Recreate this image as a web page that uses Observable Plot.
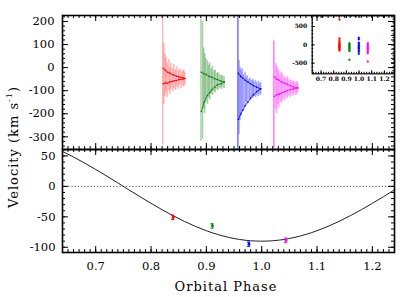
<!DOCTYPE html>
<html><head><meta charset="utf-8">
<script src="https://cdn.jsdelivr.net/npm/d3@7"></script>
<script src="https://cdn.jsdelivr.net/npm/@observablehq/plot@0.6"></script>
<style>
body{margin:0;background:#fff;}
#c{position:relative;width:415px;height:297px;font-family:"DejaVu Serif",serif;overflow:hidden;}
#c svg{position:absolute;}
.lab{position:absolute;font-family:"DejaVu Serif",serif;font-size:13px;letter-spacing:1px;white-space:nowrap;color:#000;}
</style></head><body><div id="c"></div><script>
// ---- top panel: individual velocity measurements [phase, low, high]
const redBars = [[0.821,-335,240],[0.823,-160,105],[0.825,-125,60],[0.827,-110,45],[0.829,-130,20],[0.832,-100,35],[0.834,-115,0],[0.836,-95,20],[0.839,-105,-5],[0.841,-90,15],[0.844,-100,-10],[0.846,-85,5],[0.849,-95,-15],[0.851,-80,-5],[0.854,-90,-10],[0.857,-80,-15],[0.859,-85,-10],[0.861,-75,-20]];
const greenBars = [[0.890,-320,212],[0.893,-310,200],[0.895,-180,85],[0.897,-200,60],[0.899,-150,40],[0.902,-160,30],[0.904,-130,10],[0.906,-140,20],[0.909,-115,-5],[0.911,-120,5],[0.914,-105,-15],[0.916,-110,-10],[0.919,-95,-25],[0.921,-100,-20],[0.924,-90,-30],[0.927,-95,-35],[0.929,-85,-35],[0.932,-90,-40]];
const blueBars = [[0.957,-365,240],[0.959,-290,30],[0.961,-230,0],[0.963,-210,-10],[0.965,-190,-5],[0.967,-175,-30],[0.970,-170,-20],[0.972,-150,-40],[0.974,-155,-35],[0.977,-140,-50],[0.979,-145,-45],[0.982,-130,-55],[0.984,-135,-50],[0.986,-125,-60],[0.989,-130,-55],[0.991,-120,-65],[0.994,-125,-60],[0.996,-115,-70],[0.998,-120,-65]];
const magentaBars = [[1.022,-350,115],[1.025,-180,20],[1.027,-200,10],[1.029,-160,-5],[1.031,-175,-15],[1.034,-150,-25],[1.036,-155,-20],[1.038,-140,-35],[1.041,-145,-40],[1.043,-130,-45],[1.046,-135,-40],[1.048,-125,-50],[1.051,-130,-55],[1.053,-120,-55],[1.056,-125,-60],[1.058,-115,-60],[1.061,-120,-65],[1.063,-115,-60],[1.065,-110,-65]];
// running estimates (upper / lower traces) [phase, velocity]
const redUpper = [[0.822,-3],[0.826,-12],[0.830,-20],[0.834,-24],[0.838,-30],[0.842,-33],[0.846,-37],[0.850,-40],[0.854,-42],[0.858,-45],[0.861,-47]];
const redLower = [[0.822,-70],[0.826,-66],[0.830,-68],[0.834,-62],[0.838,-60],[0.842,-57],[0.846,-56],[0.850,-52],[0.854,-51],[0.858,-49],[0.861,-47]];
const greenUpper = [[0.891,-20],[0.895,-26],[0.900,-30],[0.905,-38],[0.910,-42],[0.915,-48],[0.920,-52],[0.926,-58],[0.932,-63]];
const greenLower = [[0.891,-190],[0.896,-150],[0.902,-120],[0.906,-108],[0.910,-95],[0.915,-85],[0.920,-75],[0.926,-70],[0.932,-63]];
const blueUpper = [[0.958,-25],[0.962,-38],[0.966,-45],[0.970,-55],[0.975,-62],[0.980,-70],[0.985,-78],[0.991,-85],[0.998,-92]];
const blueLower = [[0.958,-225],[0.962,-200],[0.966,-185],[0.970,-165],[0.975,-150],[0.980,-132],[0.985,-118],[0.991,-104],[0.998,-92]];
const magentaUpper = [[1.023,-40],[1.027,-50],[1.032,-55],[1.036,-62],[1.041,-68],[1.046,-72],[1.052,-78],[1.058,-84],[1.065,-88]];
const magentaLower = [[1.023,-125],[1.027,-118],[1.032,-115],[1.036,-110],[1.041,-105],[1.046,-100],[1.052,-95],[1.058,-92],[1.065,-88]];
// ---- inset: all measurements
const insetPhase = [0.845, 0.924, 0.998, 1.069];
const insetRed = [690,170,120,70,40,10,-10,-30,-50,-70,-90,-120,-155];
const insetGreen = [40,10,-20,-50,-80,-110,-140,-170,-410];
const insetBlue = [190,150,60,20,-20,-50,-80,-110,-150,-190,-245];
const insetMagenta = [45,10,-30,-60,-90,-120,-150,-190,-230,-456];
// ---- bottom panel: mean velocities and model curve
const meanPhase = [0.840, 0.911, 0.977, 1.044];
const meanVel = [-51, -65, -95, -88.5];
const meanErr = [3.5, 3.5, 3.5, 3.5];
const curvePhase = [0.64,0.66,0.68,0.70,0.72,0.74,0.76,0.78,0.80,0.82,0.84,0.86,0.88,0.90,0.92,0.94,0.96,0.98,1.00,1.02,1.04,1.06,1.08,1.10,1.12,1.14,1.16,1.18,1.20,1.22,1.24];
const curveVel = [57.4,48.2,38.3,27.8,16.9,5.7,-5.7,-16.9,-27.8,-38.3,-48.2,-57.4,-65.6,-72.8,-78.9,-83.7,-87.2,-89.3,-90,-89.3,-87.2,-83.7,-78.9,-72.8,-65.6,-57.4,-48.2,-38.3,-27.8,-16.9,-5.7];
// ---- tick labels
const topYTicks = [200,100,0,-100,-200,-300];
const botYTicks = [50,0,-50,-100];
const xTicks = [0.7,0.8,0.9,1.0,1.1,1.2];
const insetYTicks = [500,0,-500];

const colors = ["#ff0000","#0a7d0a","#0000ff","#ff00ff"];
const lightColors = ["#ff6060","#3c963c","#4a4aff","#ff40ff"];
const firstOpacity = [0.45,0.4,0.85,0.75];

const xDomain = [0.64, 1.24];
const W = 415, ML = 62, MR = 21;
const FW = W - ML - MR;
const font = "DejaVu Serif";

function frameTicks(xMaj, xMin, yMaj, yMin, fw, fh, L, l) {
  const s = {stroke:"black", strokeWidth:1};
  return [
    Plot.ruleX(xMaj,{...s, insetBottom: fh - L}), Plot.ruleX(xMaj,{...s, insetTop: fh - L}),
    Plot.ruleX(xMin,{...s, insetBottom: fh - l}), Plot.ruleX(xMin,{...s, insetTop: fh - l}),
    Plot.ruleY(yMaj,{...s, insetRight: fw - L}), Plot.ruleY(yMaj,{...s, insetLeft: fw - L}),
    Plot.ruleY(yMin,{...s, insetRight: fw - l}), Plot.ruleY(yMin,{...s, insetLeft: fw - l})
  ];
}
const xMinor = d3.range(64, 125, 1).map(d => d / 100);

const groups = [
  [redBars, redUpper, redLower],
  [greenBars, greenUpper, greenLower],
  [blueBars, blueUpper, blueLower],
  [magentaBars, magentaUpper, magentaLower]
];
const topMarks = [];
groups.forEach(([bars, up, lo], i) => {
  const obj = bars.map(([p, l, h]) => ({p, l, h}));
  topMarks.push(Plot.ruleX(obj.slice(1), {x:"p", y1:"l", y2:"h", stroke: lightColors[i], strokeOpacity:0.45, strokeWidth:1.6, clip:true}));
  topMarks.push(Plot.ruleX(obj.slice(0,1), {x:"p", y1:"l", y2:"h", stroke: lightColors[i], strokeOpacity:firstOpacity[i], strokeWidth:1.4, clip:true}));
  topMarks.push(Plot.line(up, {x:d=>d[0], y:d=>d[1], stroke: colors[i], strokeWidth:0.8}));
  topMarks.push(Plot.line(lo, {x:d=>d[0], y:d=>d[1], stroke: colors[i], strokeWidth:0.8}));
  topMarks.push(Plot.dot(up.concat(lo), {x:d=>d[0], y:d=>d[1], r:0.8, fill: colors[i]}));
});

const topH = 149, topMT = 15;
const topPlot = Plot.plot({
  width: W, height: topH, marginLeft: ML, marginRight: MR, marginTop: topMT, marginBottom: 0,
  x: {domain: xDomain, axis: null},
  y: {domain: [-355, 226]},
  style: {background:"transparent", overflow:"visible", fontFamily: font, fontSize:"11.5px", color:"#000"},
  marks: [
    ...topMarks,
    ...frameTicks(xTicks, xMinor, topYTicks, d3.range(-340, 226, 20), FW, topH - topMT, 6, 3),
    Plot.axisY(topYTicks, {tickSize:0, tickPadding:8, label:null, tickFormat: d => d}),
    Plot.frame({stroke:"black", strokeWidth:1.6})
  ]
});

const botTop = 149, botH = 148, botMB = 45;
const pts = meanPhase.map((p, i) => ({p, v: meanVel[i], e: meanErr[i], c: colors[i]}));
const bottomPlot = Plot.plot({
  width: W, height: botH, marginLeft: ML, marginRight: MR, marginTop: 0, marginBottom: botMB,
  x: {domain: xDomain},
  y: {domain: [-108.6, 60.6]},
  style: {background:"transparent", overflow:"visible", fontFamily: font, fontSize:"11.5px", color:"#000"},
  marks: [
    Plot.ruleY([0], {stroke:"#222", strokeDasharray:"1,2.2", strokeWidth:0.9}),
    Plot.line(curvePhase.map((p, i) => [p, curveVel[i]]), {x:d=>d[0], y:d=>d[1], stroke:"#222", strokeWidth:1, curve:"natural"}),
    Plot.ruleX(pts, {x:"p", y1:d=>d.v-d.e, y2:d=>d.v+d.e, stroke:"c", strokeWidth:1.2}),
    Plot.ruleY(pts, {y:d=>d.v+d.e, x1:d=>d.p-0.003, x2:d=>d.p+0.003, stroke:"c", strokeWidth:1}),
    Plot.ruleY(pts, {y:d=>d.v-d.e, x1:d=>d.p-0.003, x2:d=>d.p+0.003, stroke:"c", strokeWidth:1}),
    Plot.dot(pts, {x:"p", y:"v", r:1.4, fill:"c"}),
    ...frameTicks(xTicks, xMinor, botYTicks, d3.range(-100, 61, 10), FW, botH - botMB, 6, 3),
    Plot.axisY(botYTicks, {tickSize:0, tickPadding:7, label:null, tickFormat: d => d}),
    Plot.axisX(xTicks, {tickSize:0, tickPadding:9, label:null, tickFormat: d3.format(".1f")}),
    Plot.frame({stroke:"black", strokeWidth:1.6})
  ]
});

// inset
const insL = 280, insTop = 15, insW = 114, insH = 80, insML = 31.7, insMB = 21.7;
const insetSets = [insetRed, insetGreen, insetBlue, insetMagenta];
const insetPts = [];
insetSets.forEach((vals, i) => vals.forEach(v => insetPts.push({p: insetPhase[i], v, c: colors[i]})));
const insetPlot = Plot.plot({
  width: insW, height: insH, marginLeft: insML, marginRight: 0, marginTop: 0, marginBottom: insMB,
  x: {domain: [0.63, 1.28]},
  y: {domain: [-790, 800]},
  style: {background:"transparent", overflow:"visible", fontFamily: font, fontSize:"6px", fontWeight:"bold", color:"#000"},
  marks: [
    Plot.dot(insetPts, {x:"p", y:"v", r:1, fill:"c", stroke:"c", strokeWidth:0.3}),
    ...frameTicks(xTicks, d3.range(64, 128, 2).map(d => d/100), insetYTicks, d3.range(-700, 801, 100), insW - insML, insH - insMB, 3, 1.5),
    Plot.axisY(insetYTicks, {tickSize:0, tickPadding:5, label:null, tickFormat: d => d}),
    Plot.axisX(xTicks, {tickSize:0, tickPadding:3, label:null, tickFormat: d3.format(".1f")}),
    Plot.frame({stroke:"black", strokeWidth:1.2})
  ]
});

const c = document.getElementById("c");
topPlot.style.left = "0px"; topPlot.style.top = "0px";
bottomPlot.style.left = "0px"; bottomPlot.style.top = botTop + "px";
insetPlot.style.left = insL + "px"; insetPlot.style.top = insTop + "px";
c.appendChild(topPlot); c.appendChild(bottomPlot); c.appendChild(insetPlot);

const xl = document.createElement("div");
xl.className = "lab"; xl.textContent = "Orbital Phase";
xl.style.left = "226px"; xl.style.top = "286px"; xl.style.transform = "translate(-50%,-50%)";
c.appendChild(xl);
const yl = document.createElement("div");
yl.className = "lab"; yl.innerHTML = "Velocity (km s<sup style=\"font-size:8px\">-1</sup>)";
yl.style.left = "13px"; yl.style.top = "147px"; yl.style.transform = "translate(-50%,-50%) rotate(-90deg)";
c.appendChild(yl);
</script></body></html>
